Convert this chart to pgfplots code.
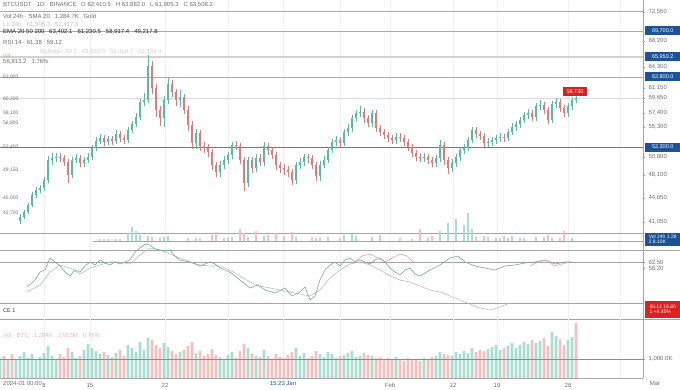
\documentclass[border=0pt]{standalone}
\usepackage{fontspec}
\setmainfont{Liberation Sans}
\usepackage{pgfplots}
\pgfplotsset{compat=1.18}
\usepackage{pgfplotstable}
\newcommand\fs[1]{\fontsize{#1}{#1}\selectfont}
\definecolor{upc}{RGB}{88,188,160}
\definecolor{dnc}{RGB}{232,120,120}
\definecolor{upv}{RGB}{170,221,208}
\definecolor{dnv}{RGB}{247,190,190}
\definecolor{lvl}{RGB}{216,150,150}
\definecolor{dark}{RGB}{135,112,112}
\definecolor{oscc}{RGB}{112,172,156}
\definecolor{tvblue}{RGB}{28,82,150}
\definecolor{tvred}{RGB}{222,32,32}
\definecolor{txt}{RGB}{110,110,110}
\definecolor{sep}{RGB}{165,165,165}

% candles: x, body low, body high, wick low, wick high
\pgfplotstableread{
x lo hi wl wh
20 168 172 165 175
24 172 177 170 179
28 177 184 175 186
32 184 194 182 197
36 194 199 191 202
40 199 201 196 204
44 201 209 198 212
48 209 229 206 233
52 229 231 224 236
56 231 232 227 236
72 214 229 211 232
76 229 231 226 235
84 226 229 222 232
88 229 232 226 236
92 232 241 229 244
96 241 248 238 252
100 248 251 245 255
108 247 250 244 253
116 248 255 245 259
128 249 259 246 262
132 259 265 256 268
136 265 272 262 276
140 272 287 269 290
144 287 289 283 296
148 289 323 286 334
164 271 289 262 293
168 289 305 285 311
180 289 292 282 299
196 246 256 240 260
220 217 224 212 228
224 224 229 220 233
228 229 234 225 237
232 234 244 230 247
248 206 229 202 232
256 221 231 217 235
264 227 243 223 247
296 209 224 205 227
300 224 227 220 231
304 227 232 223 235
320 213 224 208 228
324 224 229 221 233
328 229 239 226 242
332 239 247 236 250
336 247 249 243 253
344 246 257 243 260
348 257 261 253 265
352 261 271 257 274
356 271 276 267 279
360 276 277 272 283
372 266 276 262 279
396 249 252 245 256
424 231 232 227 236
436 226 231 222 234
440 231 244 227 249
452 221 226 217 230
456 226 232 222 235
460 232 239 228 242
464 239 241 235 245
468 241 249 238 252
472 249 259 246 262
488 246 247 242 251
492 247 249 243 252
496 249 251 245 254
500 251 252 247 256
508 251 257 248 260
512 257 262 254 266
516 262 265 258 268
520 265 269 261 272
524 269 274 266 277
528 274 276 270 280
536 272 283 268 286
540 283 284 279 289
552 269 285 266 288
556 285 287 281 291
568 276 283 272 286
572 283 289 279 292
576 289 291 286 294
}\upC

\pgfplotstableread{
x lo hi wl wh
60 231 232 227 236
64 227 231 223 234
68 214 227 206 230
80 226 231 222 234
104 247 251 243 254
112 248 250 244 253
120 251 255 247 258
124 249 251 245 254
152 301 323 295 328
156 279 301 272 305
160 271 279 263 283
172 297 305 292 309
176 289 297 283 300
184 279 292 275 295
188 264 279 258 283
192 246 264 240 268
200 243 256 238 259
204 241 243 236 247
208 237 241 232 245
212 224 237 219 240
216 217 224 212 227
236 243 244 239 248
240 229 243 225 246
244 206 229 198 232
252 221 229 216 232
260 227 231 223 235
268 239 243 234 246
272 234 239 230 242
276 224 234 219 237
280 221 224 216 227
284 219 221 214 225
288 217 219 212 223
292 209 217 204 220
308 231 232 226 235
312 224 231 220 234
316 213 224 208 227
340 246 249 242 252
364 271 277 266 281
368 266 271 262 274
376 261 276 257 279
380 257 261 253 264
384 254 257 250 260
388 251 254 247 257
392 249 251 245 254
400 251 252 247 256
404 247 251 243 254
408 242 247 238 250
412 236 242 232 245
416 232 236 228 239
420 231 232 227 236
428 229 232 225 235
432 226 229 222 232
444 229 244 224 247
448 221 229 215 232
476 255 259 251 262
480 253 255 249 258
484 246 253 242 256
504 251 252 247 255
532 272 276 268 279
544 279 284 275 287
548 269 279 265 282
560 281 287 277 290
564 276 281 272 284
}\dnC

% bottom volume
\pgfplotstableread{
x h
0 20
8 18
16 19
20 22
24 26
28 20
32 24
36 18
40 21
44 25
48 32
52 22
56 19
72 26
76 20
84 28
88 34
92 30
96 27
100 24
108 23
116 25
128 33
132 30
136 26
140 36
144 28
148 40
164 35
168 31
180 26
196 25
220 21
224 19
228 23
232 26
248 30
256 22
264 28
296 30
300 22
304 25
320 24
324 21
328 26
332 24
336 20
344 23
348 25
352 27
356 21
360 22
372 22
396 21
424 20
436 22
440 26
452 22
456 26
460 24
464 27
468 25
472 30
488 29
492 31
496 33
500 28
508 32
512 35
516 30
520 33
524 36
528 34
536 35
540 37
552 46
556 42
568 38
572 41
}\upV

\pgfplotstableread{
x h
4 22
12 24
60 24
64 21
68 30
80 22
104 26
112 21
120 28
124 22
152 38
156 33
160 30
172 27
176 24
184 28
188 32
192 36
200 27
204 22
208 24
212 29
216 23
236 20
240 27
244 34
252 24
260 21
268 22
272 19
276 24
280 21
284 20
288 23
292 26
308 20
312 22
316 27
340 22
364 25
368 23
376 20
380 21
384 19
388 20
392 18
400 19
404 17
408 20
412 18
416 19
420 17
428 19
432 21
444 24
448 23
476 26
480 28
484 27
504 30
532 38
544 40
548 32
560 39
564 33
576 55
}\dnV

% small overlay volume
\pgfplotstableread{
x h
100 2
108 2
116 2
128 8
132 14
136 10
140 6
148 5
164 4
168 5
196 3
224 3
232 4
248 4
264 5
296 4
320 3
328 4
344 6
352 7
356 5
372 4
440 10
448 18
456 22
464 16
468 28
472 12
488 4
496 3
512 5
520 3
536 4
552 3
572 3
}\upS

\pgfplotstableread{
x h
104 2
120 2
152 4
160 3
188 3
200 3
212 6
216 9
228 4
240 12
244 8
256 10
268 6
276 8
284 5
292 9
312 4
316 3
340 3
380 6
400 3
412 2
420 12
428 3
432 5
476 4
484 5
500 3
504 5
508 3
524 3
544 4
548 6
560 3
564 10
}\dnS

% oscillator lines
\pgfplotstableread{
x y
27 102
35 109
40 117
45 119
50 131
55 127
60 123
65 117
70 113
75 119
80 117
85 123
90 127
95 124
100 129
105 126
110 124
115 127
120 125
125 127
130 129
135 137
140 141
145 145
150 144
155 140
160 139
165 138
170 139
175 133
180 129
190 127
200 123
210 127
215 125
220 121
230 117
240 109
250 101
258 104
265 99
275 96
285 101
292 93
300 97
305 102
310 89
315 93
320 109
325 119
330 124
335 127
340 123
345 129
350 131
355 127
360 129
365 127
370 125
375 129
380 131
385 127
390 121
395 117
400 114
405 119
410 121
415 115
420 113
430 119
440 124
450 131
458 133
465 127
475 123
485 121
495 119
505 123
515 124
525 126
535 127
545 129
555 125
565 127
572 127
}\oscA

\pgfplotstableread{
x y
27 97
40 104
50 117
60 124
70 121
80 115
90 121
100 124
110 127
120 127
130 125
140 134
150 141
160 139
170 135
180 131
190 127
200 124
210 123
220 123
230 119
240 113
250 107
260 103
270 101
280 99
290 97
300 95
310 93
320 99
330 111
340 119
350 125
360 127
370 124
380 119
390 113
400 109
410 107
420 103
430 99
440 97
450 93
460 89
470 85
480 81
490 79
500 82
510 86
}\oscB

\pgfplotstableread{
x y
355 127
362 133
370 135
378 131
385 127
392 131
400 135
407 133
413 127
}\oscR

\pgfplotstableread{
x y
530 123
538 127
546 129
554 123
562 125
570 127
}\oscRb

\pgfplotsset{
  panel/.style={scale only axis, width=643pt, xmin=0, xmax=643, anchor=south west,
    axis line style={draw=none}, clip=false,
    xtick={44,90,165,228,283,340,390,453,497,568,620}, xticklabels={},
    xmajorgrids, major x grid style={black!6}, x tick style={draw=none},
    yticklabel pos=right, ytick pos=right, tick align=outside,
    major tick length=2pt, y tick style={black!40},
    yticklabel style={font=\fs{6}, text=txt},
    /pgf/number format/assume math mode=true},
  lvline/.style={forget plot, line width=#1},
  wick/.style={draw=none, mark=none, forget plot,
    error bars/.cd, y dir=plus, y explicit, error mark=none,
    error bar style={draw=#1, line width=0.55pt}},
  body/.style={draw=none, mark=none, forget plot,
    error bars/.cd, y dir=plus, y explicit, error mark=none,
    error bar style={draw=#1, line width=2.1pt}},
}

\begin{document}
\begin{tikzpicture}[x=1pt,y=1pt]
\useasboundingbox (0pt,0pt) rectangle (680pt,389pt);

% ---------- price panel ----------
\begin{axis}[panel, at={(0pt,139pt)}, height=250pt, ymin=139, ymax=389,
  ytick={377,348,322,301,291,276,262,232,214,191,167},
  yticklabels={{72,550},{68,200},{64,300},{61,150},{59,650},{57,400},{55,300},{50,800},{48,100},{44,650},{41,050}}]
\addplot[lvline=0.6pt, lvl] coordinates {(0,378) (643,378)};
\addplot[lvline=0.6pt, lvl] coordinates {(0,358) (643,358)};
\addplot[lvline=1.4pt, black!18] coordinates {(0,332) (643,332)};
\addplot[lvline=0.6pt, lvl] coordinates {(0,312) (643,312)};
\addplot[lvline=0.5pt, black!15] coordinates {(0,291) (643,291)};
\addplot[lvline=0.9pt, dark] coordinates {(0,242) (643,242)};
\addplot[wick=upc] table[x=x, y=wl, y error plus expr=\thisrow{wh}-\thisrow{wl}] {\upC};
\addplot[wick=dnc] table[x=x, y=wl, y error plus expr=\thisrow{wh}-\thisrow{wl}] {\dnC};
\addplot[body=upc] table[x=x, y=lo, y error plus expr=\thisrow{hi}-\thisrow{lo}] {\upC};
\addplot[body=dnc] table[x=x, y=lo, y error plus expr=\thisrow{hi}-\thisrow{lo}] {\dnC};
\end{axis}

% ---------- overlay volume ----------
\begin{axis}[panel, at={(0pt,148pt)}, height=28pt, ymin=0, ymax=28, ytick=\empty, xmajorgrids=false]
\addplot[lvline=0.6pt, sep] coordinates {(0,8) (643,8)};
\addplot[lvline=0.6pt, sep] coordinates {(93,0) (643,0)};
\addplot[ybar, bar width=1.6pt, bar shift=0pt, fill=upv, draw=none, forget plot] table[x=x,y=h] {\upS};
\addplot[ybar, bar width=1.6pt, bar shift=0pt, fill=dnv, draw=none, forget plot] table[x=x,y=h] {\dnS};
\end{axis}

% ---------- oscillator ----------
\begin{axis}[panel, at={(0pt,70pt)}, height=69pt, ymin=70, ymax=139,
  ytick={127,121}, yticklabels={62.50,58.20}]
\addplot[lvline=0.7pt, sep] coordinates {(0,139) (680,139)};
\addplot[lvline=0.6pt, sep] coordinates {(0,127) (643,127)};
\addplot[lvline=0.6pt, sep] coordinates {(0,86) (643,86)};
\addplot[lvline=0.7pt, sep] coordinates {(0,70) (680,70)};
\addplot[forget plot, black!28, line width=0.55pt] table[x=x,y=y] {\oscB};
\addplot[forget plot, oscc, line width=0.6pt] table[x=x,y=y] {\oscA};
\addplot[forget plot, dnc!75, line width=0.6pt] table[x=x,y=y] {\oscR};
\addplot[forget plot, dnc!75, line width=0.6pt] table[x=x,y=y] {\oscRb};
\end{axis}

% ---------- bottom volume ----------
\begin{axis}[panel, at={(0pt,11pt)}, height=59pt, ymin=0, ymax=59,
  ytick={19,80}, yticklabels={{1,000.0K},{}},
  xticklabels={8,15,22,,,,Feb,12,19,26,},
  xticklabel style={font=\fs{6}, text=txt}]
\addplot[ybar, bar width=2.6pt, bar shift=0pt, fill=upv, draw=none, forget plot] table[x=x,y=h] {\upV};
\addplot[ybar, bar width=2.6pt, bar shift=0pt, fill=dnv, draw=none, forget plot] table[x=x,y=h] {\dnV};
\addplot[lvline=0.7pt, black!45] coordinates {(0,19) (643,19)};
\addplot[lvline=0.6pt, sep] coordinates {(0,0) (643,0)};
\end{axis}

% right axis line
\draw[black!35, line width=0.5pt] (643pt,11pt) -- (643pt,389pt);

% ---------- header texts ----------
\node[anchor=west, font=\fs{6}, text=txt, inner sep=0pt] at (3pt,384pt) {BTCUSDT · 1D · BINANCE \enspace O 62,410.5 \; H 63,882.0 \; L 61,905.3 \; C 63,508.2};
\node[anchor=west, font=\fs{6}, text=txt, inner sep=0pt] at (3pt,372pt) {Vol 24h · SMA 20 \; 1,284.7K \enspace Gold};
\node[anchor=west, font=\fs{6}, text=black!25, inner sep=0pt] at (3pt,364pt) {Lo 24h · 61,905.3 \; 52,417.8};
\node[anchor=west, font=\fs{6}, text=black!85, inner sep=0pt] at (3pt,357pt) {EMA 20 50 200 \enspace 63,402.1 \; 61,230.5 \; 58,917.4 \; 49,217.8};
\node[anchor=west, font=\fs{6}, text=txt, inner sep=0pt] at (3pt,347pt) {RSI 14 · 61.38 \; 59.12};
\node[anchor=west, font=\fs{6}, text=black!18, inner sep=0pt] at (40pt,337pt) {Bollinger 20 2 \; 63,882.0 \; 58,110.2 \; 52,338.4};
\node[anchor=west, font=\fs{5}, text=lvl, inner sep=0pt] at (3pt,333.5pt) {Vol};
\node[anchor=west, font=\fs{6}, text=txt, inner sep=0pt] at (3pt,327pt) {56,813.2 \; 1.76\%};
% left inner labels
\foreach \yy/\tt in {312/{63,000},290/{60,200},276/{58,100},266/{56,800},242/{52,400},219/{49,150},191/{45,000},176/{42,700}}
  \node[anchor=west, font=\fs{5}, text=txt, inner sep=0pt] at (3pt,\yy pt) {\tt};

% right price boxes
\foreach \yy/\tt in {358/{69,700.0},332/{65,950.2},312/{62,800.0},242/{52,300.0}}
  \node[fill=tvblue, text=white, font=\fs{5.5}, anchor=west, inner sep=0pt, minimum width=35pt, minimum height=9pt] at (645pt,\yy pt) {\tt};
\node[fill=tvblue, text=white, font=\fs{5}, anchor=west, inner sep=1pt, minimum width=35pt, minimum height=13pt, align=left] at (645pt,149.5pt) {Vol 24h 1.28\\2 8.10K};
\node[fill=tvred, text=white, font=\fs{5}, anchor=west, inner sep=1pt, minimum width=35pt, minimum height=17pt, align=left] at (645pt,80pt) {30.12 16.80\\1 +4.45\%};
\node[fill=tvred, text=white, font=\fs{5.5}, inner sep=0pt, minimum width=24pt, minimum height=9pt] at (575pt,297.5pt) {59,720};

% indicator labels
\node[anchor=west, font=\fs{5.5}, text=black!80, inner sep=0pt] at (3pt,78pt) {CE 1};
\node[anchor=west, font=\fs{6}, text=dnc!60, inner sep=0pt] at (3pt,54pt) {Vol · BTC \; 1.284K \; 2.913M \; 0.75\%};
% x axis extra labels
\node[anchor=west, font=\fs{6}, text=txt, inner sep=0pt] at (3pt,6pt) {2024-01 00:00};
\node[font=\fs{6}, text=tvblue, inner sep=0pt] at (283pt,6pt) {15:23 Jan};
\node[font=\fs{6}, text=txt, inner sep=0pt] at (655pt,6pt) {Mar};
\end{tikzpicture}
\end{document}
